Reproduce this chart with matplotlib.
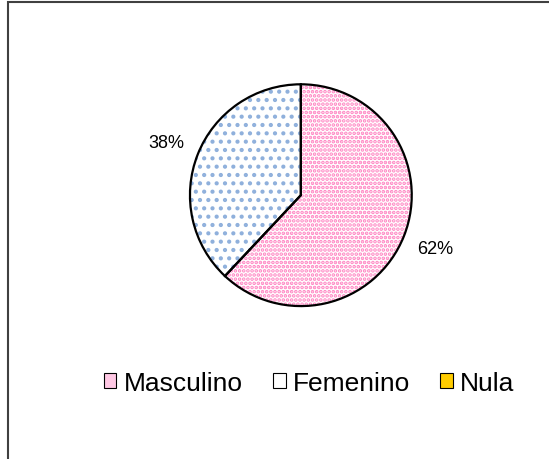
import matplotlib.pyplot as plt
from matplotlib.patches import Patch, Rectangle

plt.rcParams['font.family'] = ['Liberation Sans', 'DejaVu Sans']
plt.rcParams['hatch.linewidth'] = 1.8

# datos
categorias = ['Masculino', 'Femenino', 'Nula']
valores = [62, 38, 0]
colores_fondo = ['white', 'white', '#FFCC00']
colores_trama = ['#FF80C0', '#8FB0DC', '#FFFFFF']
tramas = ['....', '..', 'xx']

fig = plt.figure(figsize=(5.49, 4.6), dpi=100)
ax = fig.add_axes([0.344, 0.330, 0.408, 0.487])

# solo se dibujan los sectores con valor
vals = [v for v in valores if v > 0]
idx = [i for i, v in enumerate(valores) if v > 0]

# capa de relleno con trama
wedges, _ = ax.pie(vals, startangle=90, counterclock=False,
                   colors=[colores_fondo[i] for i in idx],
                   wedgeprops=dict(linewidth=0))
for w, i in zip(wedges, idx):
    w.set_hatch(tramas[i])
    w.set_edgecolor(colores_trama[i])
    w.set_linewidth(0)

# capa del contorno negro + porcentajes
ax.pie(vals, startangle=90, counterclock=False,
       autopct=lambda p: f'{p:.0f}%' if p > 0 else '',
       pctdistance=1.3,
       wedgeprops=dict(fill=False, edgecolor='black', linewidth=1.6),
       textprops=dict(fontsize=13, color='black'))
ax.set_xlim(-1.01, 1.01)
ax.set_ylim(-1.01, 1.01)

# leyenda
handles = [
    Patch(facecolor='#FFC8E4', edgecolor='black', linewidth=0.8),
    Patch(facecolor='white', edgecolor='black', linewidth=0.8),
    Patch(facecolor='#FFCC00', edgecolor='black', linewidth=0.8),
]
leg = fig.legend(handles, categorias, loc='center', ncol=3,
                 bbox_to_anchor=(0.563, 0.165), frameon=False,
                 fontsize=19, handlelength=0.48, handleheight=0.48,
                 handletextpad=0.27, columnspacing=1.15)

# marco exterior del gráfico
fig.patches.append(Rectangle((8 / 549, -0.1), 1.2, 0.1 + 1 - 3 / 460,
                             transform=fig.transFigure, fill=False,
                             edgecolor='#404040', linewidth=1.5))

fig.savefig('out.png', dpi=100)
